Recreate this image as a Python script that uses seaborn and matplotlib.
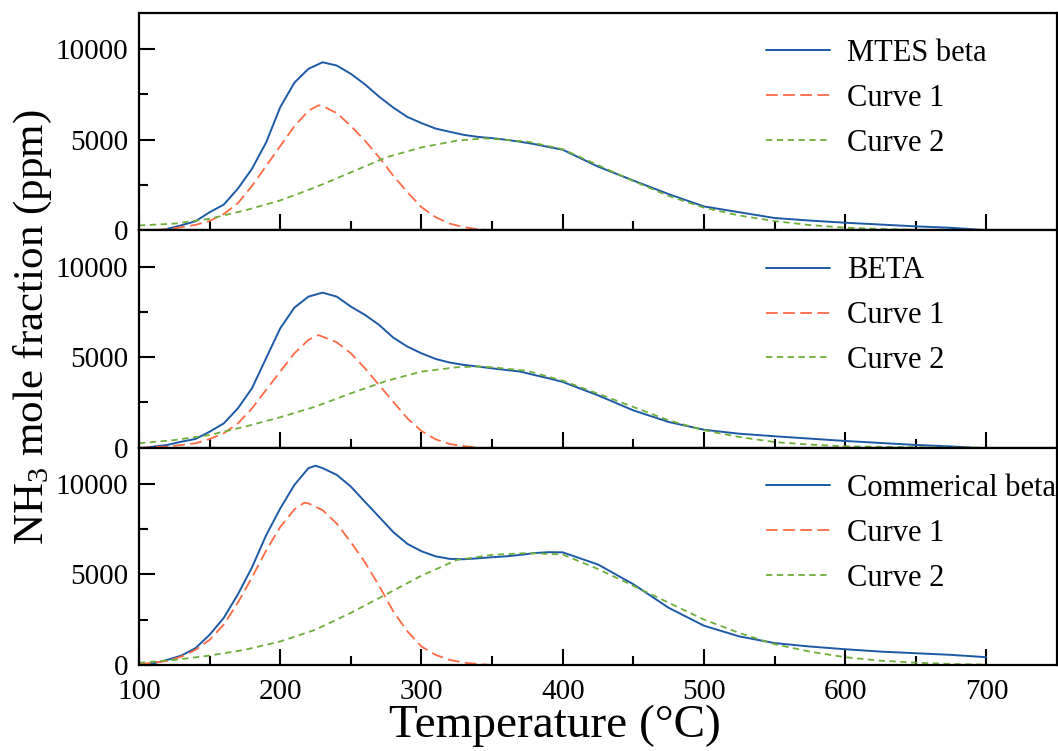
import matplotlib
matplotlib.use("Agg")
import matplotlib.pyplot as plt
import seaborn as sns
import numpy as np

# ---------------- data ----------------
# Panel 1: MTES beta
mtes_T = [115, 120, 130, 140, 150, 160, 170, 180, 190, 200, 210, 220, 230, 240, 250, 260, 270, 280,
          290, 300, 310, 320, 330, 340, 350, 360, 370, 380, 390, 400, 425, 450, 475, 500, 525, 550,
          575, 600, 625, 650, 675, 690, 700]
mtes_v = [0, 80, 280, 500, 1000, 1420, 2300, 3400, 4850, 6800, 8150, 8920, 9280, 9100, 8640, 8060, 7380, 6780,
          6260, 5920, 5620, 5440, 5270, 5160, 5090, 5000, 4890, 4760, 4600, 4450, 3520, 2750, 2000, 1320, 1000, 680,
          540, 420, 320, 220, 140, 60, 0]
mtes_c1_T = [100, 120, 140, 150, 160, 170, 180, 190, 200, 210, 220, 227, 230, 240, 250, 260, 270, 280, 290, 300,
             310, 320, 330, 340, 350]
mtes_c1_v = [0, 55, 300, 520, 900, 1500, 2450, 3550, 4650, 5750, 6600, 6900, 6870, 6470, 5770, 4950, 4030, 3020,
             2110, 1280, 730, 370, 180, 55, 0]
mtes_c2_T = [100, 125, 150, 175, 200, 225, 250, 275, 300, 325, 345, 375, 400, 425, 450, 475, 500, 525, 550, 575,
             600, 625, 650, 675, 700]
mtes_c2_v = [270, 370, 640, 1100, 1650, 2380, 3200, 4030, 4580, 4950, 5080, 4900, 4480, 3600, 2720, 1900, 1250,
             820, 510, 290, 150, 75, 25, 5, 0]

# Panel 2: BETA
beta_T = [105, 110, 120, 130, 140, 150, 160, 170, 180, 190, 200, 210, 220, 230, 240, 250, 260, 270, 280, 290,
          300, 310, 320, 330, 340, 350, 360, 370, 380, 390, 400, 425, 450, 475, 500, 525, 550, 575, 600, 625,
          650, 675, 690]
beta_v = [0, 55, 150, 330, 480, 880, 1340, 2170, 3280, 4940, 6590, 7730, 8340, 8560, 8340, 7790, 7330, 6780,
          6080, 5580, 5210, 4900, 4700, 4570, 4480, 4380, 4290, 4200, 4010, 3830, 3630, 2890, 2060, 1420, 990,
          770, 630, 500, 370, 260, 150, 70, 0]
beta_c1_T = [100, 120, 140, 150, 160, 170, 180, 190, 200, 210, 220, 227, 240, 250, 260, 270, 280, 290, 300, 310,
             320, 330, 340]
beta_c1_v = [0, 55, 240, 480, 790, 1340, 2170, 3190, 4200, 5210, 5950, 6220, 5820, 5210, 4380, 3460, 2540, 1620,
             920, 460, 200, 90, 0]
beta_c2_T = [100, 125, 150, 175, 200, 225, 250, 275, 300, 325, 340, 350, 375, 400, 425, 450, 475, 500, 525, 550,
             575, 600, 650, 700]
beta_c2_v = [240, 420, 700, 1160, 1680, 2270, 3000, 3680, 4200, 4440, 4480, 4440, 4240, 3700, 2980, 2250, 1510,
             960, 590, 310, 170, 75, 20, 0]

# Panel 3: Commerical beta
com_T = [100, 110, 120, 130, 140, 150, 160, 170, 180, 190, 200, 210, 220, 225, 230, 240, 250, 260, 270, 280,
         290, 300, 310, 320, 330, 340, 350, 360, 370, 380, 390, 400, 425, 450, 475, 500, 525, 550, 575, 600,
         625, 650, 675, 700]
com_v = [0, 90, 280, 520, 930, 1670, 2600, 3900, 5390, 7160, 8640, 9940, 10870, 11000, 10870, 10500, 9850, 9010,
         8180, 7340, 6690, 6280, 6000, 5860, 5840, 5890, 5950, 6000, 6080, 6180, 6230, 6220, 5550, 4460, 3160,
         2170, 1580, 1210, 1020, 870, 740, 650, 560, 430]
com_c1_T = [100, 120, 130, 140, 150, 160, 170, 180, 190, 200, 210, 217, 220, 230, 240, 250, 260, 270, 280, 290,
            300, 310, 320, 330, 340, 350]
com_c1_v = [40, 220, 460, 840, 1390, 2230, 3440, 4830, 6320, 7620, 8590, 8960, 8920, 8550, 7810, 6780, 5670, 4370,
            2970, 1860, 1020, 560, 280, 130, 55, 0]
com_c2_T = [100, 125, 150, 175, 200, 225, 250, 275, 300, 325, 350, 375, 400, 425, 450, 475, 500, 525, 550, 575,
            600, 625, 650, 675, 700]
com_c2_v = [120, 280, 520, 840, 1300, 1950, 2880, 3900, 4930, 5800, 6080, 6180, 6100, 5300, 4370, 3440, 2510,
            1770, 1150, 740, 430, 240, 130, 55, 20]

sample_names = ["MTES beta", "BETA", "Commerical beta"]
curve_names = ["Curve 1", "Curve 2"]
x_ticks = [100, 200, 300, 400, 500, 600, 700]
x_minor = [150, 250, 350, 450, 550, 650]
y_ticks = [0, 5000, 10000]
y_minor = [2500, 7500]

panels = [
    (mtes_T, mtes_v, mtes_c1_T, mtes_c1_v, mtes_c2_T, mtes_c2_v),
    (beta_T, beta_v, beta_c1_T, beta_c1_v, beta_c2_T, beta_c2_v),
    (com_T, com_v, com_c1_T, com_c1_v, com_c2_T, com_c2_v),
]

# ---------------- style ----------------
sns.set_style("ticks")
plt.rcParams["font.family"] = ["Liberation Serif", "DejaVu Serif"]
plt.rcParams["mathtext.fontset"] = "custom"
plt.rcParams["mathtext.rm"] = "Liberation Serif"
plt.rcParams["mathtext.it"] = "Liberation Serif:italic"
plt.rcParams["text.color"] = "black"
plt.rcParams["axes.labelcolor"] = "black"
plt.rcParams["xtick.color"] = "black"
plt.rcParams["ytick.color"] = "black"

BLUE = "#1c5aa5"
ORANGE = "#ff6a45"
GREEN = "#6fae3a"

W, H = 1058, 751
fig = plt.figure(figsize=(W / 100, H / 100), dpi=100)
left, right, top, bottom = 139 / W, 1057 / W, 1 - 13 / H, 1 - 665 / H
ph = (top - bottom) / 3
axes = [fig.add_axes([left, top - (i + 1) * ph, right - left, ph]) for i in range(3)]

for i, (ax, (bT, bv, c1T, c1v, c2T, c2v)) in enumerate(zip(axes, panels)):
    sns.lineplot(x=bT, y=bv, ax=ax, color=BLUE, lw=1.4, label=sample_names[i], estimator=None)
    sns.lineplot(x=c1T, y=c1v, ax=ax, color=ORANGE, lw=1.3, linestyle=(0, (6.5, 3)),
                 label=curve_names[0], estimator=None)
    sns.lineplot(x=c2T, y=c2v, ax=ax, color=GREEN, lw=1.3, linestyle=(0, (3.5, 2.5)),
                 label=curve_names[1], estimator=None)
    ax.set_xlim(100, 750)
    ax.set_ylim(0, 12000)
    ax.set_xticks(x_ticks)
    ax.set_xticks(x_minor, minor=True)
    ax.set_yticks(y_ticks)
    ax.set_yticks(y_minor, minor=True)
    ax.set_xlabel("")
    ax.set_ylabel("")
    for s in ax.spines.values():
        s.set_visible(True)
        s.set_linewidth(1.6)
        s.set_color("black")
    ax.tick_params(which="major", direction="in", length=11.5, width=1.5, labelsize=21,
                   top=False, right=False, color="black", labelcolor="black")
    ax.tick_params(which="minor", direction="in", length=6.5, width=1.5, top=False, right=False,
                   color="black")
    ax.tick_params(axis="y", which="major", pad=8)
    ax.tick_params(axis="x", which="major", pad=10)
    if i < 2:
        ax.tick_params(axis="x", labelbottom=False)
    leg = ax.legend(loc="upper left", bbox_to_anchor=(0.683, 0.88), frameon=False, fontsize=22,
                    handlelength=2.1, handletextpad=0.55, labelspacing=0.52, borderpad=0,
                    borderaxespad=0)

fig.text(33 / W, 1 - 327 / H, "NH$_3$ mole fraction (ppm)", rotation=90, ha="center", va="center",
         fontsize=31)
fig.text(555 / W, 1 - 726 / H, "Temperature (°C)", ha="center", va="center", fontsize=34)

fig.savefig("out.png", dpi=100)
